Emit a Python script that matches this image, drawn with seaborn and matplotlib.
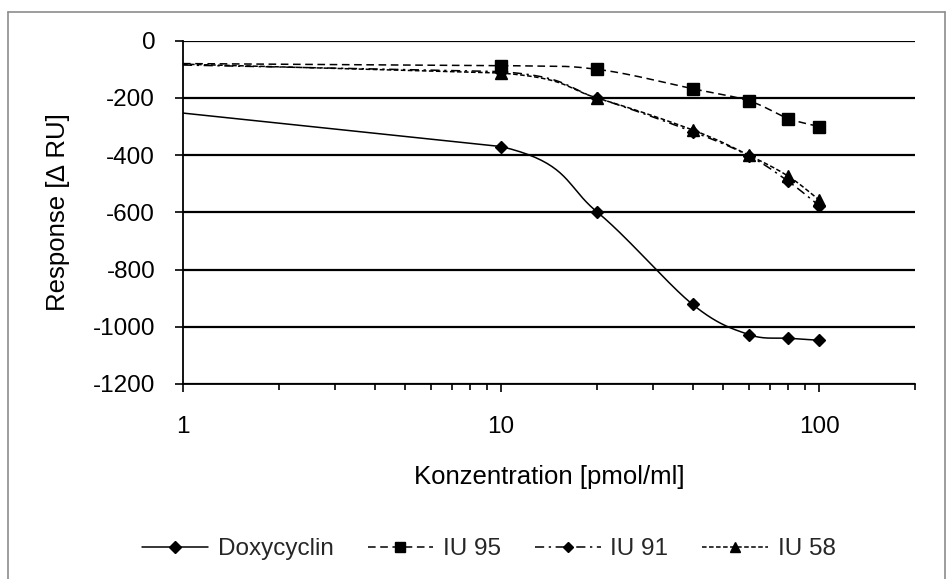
import numpy as np
import matplotlib
matplotlib.use("Agg")
import matplotlib.pyplot as plt
from matplotlib.lines import Line2D
import seaborn as sns

# ---- data ----
conc = [1, 10, 20, 40, 60, 80, 100]
series_names = ["Doxycyclin", "IU 95", "IU 91", "IU 58"]
doxy = [-253, -370, -598, -922, -1027, -1040, -1047]
iu95 = [-80, -87, -100, -168, -210, -272, -300]
iu91 = [-85, -108, -200, -318, -402, -492, -577]
iu58 = [-82, -113, -200, -312, -400, -474, -557]
y_ticks = [0, -200, -400, -600, -800, -1000, -1200]
x_ticks = [1, 10, 100]

sns.set_theme(style="white")
plt.rcParams['font.family'] = ['Liberation Sans', 'DejaVu Sans']

W, H = 951, 579
fig = plt.figure(figsize=(W / 100, H / 100), dpi=100)
AX_L, AX_R, AX_T, AX_B = 183, 915, 40.7, 384.0
ax = fig.add_axes([AX_L / W, 1 - AX_B / H, (AX_R - AX_L) / W, (AX_B - AX_T) / H])

XMIN, XMAX, YMIN, YMAX = 1, 200, -1200, 0
# screen scaling (px per decade / px per unit) for Excel-like smoothing
sx = 318.0
sy = 57.2 / 200.0


def smooth(xs, ys, n=40):
    px = np.log10(np.asarray(xs, float)) * sx
    py = np.asarray(ys, float) * sy
    P = np.column_stack([px, py])
    m = len(P)
    out = []
    for i in range(m - 1):
        p1 = P[i]
        p2 = P[i + 1]
        if i == 0:
            c1 = p1 + (p2 - p1) / 3.0
            c2 = p2 - (p2 - p1) / 3.0
        else:
            p0 = P[i - 1]
            p3 = P[i + 2] if i + 2 < m else P[i + 1]
            c1 = p1 + (p2 - p0) / 6.0
            c2 = p2 - (p3 - p1) / 6.0
        t = np.linspace(0, 1, n)[:, None]
        seg = ((1 - t) ** 3) * p1 + 3 * ((1 - t) ** 2) * t * c1 + 3 * (1 - t) * t ** 2 * c2 + t ** 3 * p2
        if i > 0:
            seg = seg[1:]
        out.append(seg)
    S = np.vstack(out)
    return 10 ** (S[:, 0] / sx), S[:, 1] / sy


styles = {
    "Doxycyclin": dict(ls="-", marker="D", ms=6.6),
    "IU 95": dict(ls=(0, (5, 3)), marker="s", ms=8.3),
    "IU 91": dict(ls=(0, (6, 3, 1.5, 3)), marker="D", ms=6.3),
    "IU 58": dict(ls=(0, (3, 1.6)), marker="^", ms=8.5),
}
data = {"Doxycyclin": doxy, "IU 95": iu95, "IU 91": iu91, "IU 58": iu58}

for name in series_names:
    vals = data[name]
    st = styles[name]
    sxs, sys_ = smooth(conc, vals)
    sns.lineplot(x=sxs, y=sys_, ax=ax, color="black", lw=1.1, sort=False,
                 estimator=None, linestyle=st["ls"], zorder=3)
    ax.plot(conc[1:], vals[1:], linestyle="none", marker=st["marker"],
            ms=st["ms"], color="black", zorder=4)

ax.set_xscale("log")
ax.set_xlim(XMIN, XMAX)
ax.set_ylim(YMIN, YMAX)
ax.set_xticks(x_ticks)
ax.set_xticklabels([str(v) for v in x_ticks])
ax.set_yticks(y_ticks)
ax.set_yticklabels([str(v) for v in y_ticks])
ax.xaxis.set_minor_locator(matplotlib.ticker.LogLocator(base=10, subs=np.arange(2, 10)))
ax.xaxis.set_minor_formatter(matplotlib.ticker.NullFormatter())

for s in ["top", "right"]:
    ax.spines[s].set_visible(False)
for s in ["left", "bottom"]:
    ax.spines[s].set_color("black")
    ax.spines[s].set_linewidth(1.3)

ax.yaxis.grid(True, color="black", lw=1.6)
ax.xaxis.grid(False)
ax.set_axisbelow(True)
ax.tick_params(axis="y", which="major", direction="out", length=6, width=1.2,
               colors="black", labelsize=17.5, pad=14, left=True)
ax.tick_params(axis="x", which="major", direction="out", length=6, width=1.2,
               colors="black", labelsize=17.5, pad=17, bottom=True)
ax.tick_params(axis="x", which="minor", direction="out", length=4, width=1.2,
               colors="black", bottom=True)

ax.set_xlabel("Konzentration [pmol/ml]", fontsize=18.5, color="black")
ax.xaxis.set_label_coords((549 - AX_L) / (AX_R - AX_L), -(465 - AX_B) / (AX_B - AX_T))
ax.xaxis.label.set_va("top")
ax.set_ylabel("Response [\u2206 RU]", fontsize=18.5, color="black")
ax.yaxis.label.set_va("center")
ax.yaxis.set_label_coords(-(AX_L - 58) / (AX_R - AX_L), 0.5)

handles = [Line2D([0], [0], color="black", lw=1.1, linestyle=styles[n]["ls"],
                  marker=styles[n]["marker"], ms=styles[n]["ms"] * 0.85) for n in series_names]
fig.legend(handles, series_names, loc="center", bbox_to_anchor=(489 / W, 1 - 549 / H),
           ncol=4, frameon=False, fontsize=17.5, handlelength=2.7, columnspacing=1.4,
           handletextpad=0.4, borderpad=0.2)

# outer chart frame
for (x0, y0, x1, y1) in [(8, 12, 945, 12), (8, 12, 8, 600), (945, 12, 945, 600)]:
    fig.add_artist(Line2D([x0 / W, x1 / W], [1 - y0 / H, 1 - y1 / H], color="#8c8c8c", lw=1.2))

fig.savefig("out.png", dpi=100, facecolor="white")
